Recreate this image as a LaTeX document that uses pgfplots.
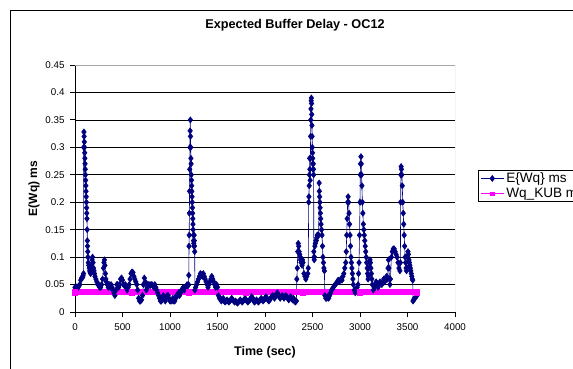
\documentclass[border=0pt]{standalone}
\usepackage{fontspec}
\setmainfont{Liberation Sans}
\usepackage{pgfplots}
\pgfplotsset{compat=1.18}
\usepackage{pgfplotstable}
\definecolor{navyc}{RGB}{0,0,128}
\definecolor{magc}{RGB}{255,0,255}
\pgfplotstableread{
t v
0 0.045
10 0.043
20 0.046
30 0.044
40 0.047
50 0.05
60 0.058
70 0.062
80 0.063
85 0.066
90 0.07
92 0.30
94 0.328
96 0.32
98 0.31
100 0.30
102 0.29
104 0.28
106 0.27
108 0.26
110 0.25
112 0.24
114 0.23
116 0.22
118 0.21
120 0.20
122 0.19
124 0.18
126 0.17
128 0.15
130 0.13
132 0.12
134 0.11
136 0.10
140 0.09
145 0.085
150 0.08
155 0.075
160 0.072
165 0.07
170 0.075
175 0.085
180 0.095
185 0.10
190 0.09
195 0.08
200 0.075
205 0.07
210 0.065
220 0.06
230 0.055
240 0.05
250 0.05
260 0.045
270 0.045
280 0.05
290 0.06
300 0.08
305 0.09
310 0.095
315 0.085
320 0.07
325 0.06
330 0.055
340 0.05
350 0.045
360 0.05
370 0.045
380 0.05
390 0.045
400 0.04
410 0.035
420 0.03
430 0.04
440 0.05
450 0.05
460 0.045
470 0.05
480 0.06
490 0.062
500 0.058
510 0.05
520 0.048
530 0.05
540 0.045
550 0.04
560 0.045
570 0.05
580 0.06
590 0.07
600 0.073
610 0.072
620 0.065
630 0.06
640 0.055
650 0.05
660 0.04
670 0.025
680 0.02
690 0.02
700 0.022
710 0.03
720 0.05
730 0.062
740 0.055
750 0.04
760 0.045
770 0.05
780 0.05
790 0.048
800 0.05
810 0.05
820 0.048
830 0.045
840 0.05
850 0.045
860 0.04
870 0.035
880 0.03
890 0.025
900 0.02
910 0.02
920 0.025
930 0.03
940 0.025
950 0.02
960 0.025
970 0.03
980 0.03
990 0.025
1000 0.02
1010 0.02
1020 0.02
1030 0.025
1040 0.02
1050 0.02
1060 0.025
1070 0.03
1080 0.03
1090 0.035
1100 0.03
1110 0.035
1120 0.04
1130 0.04
1140 0.045
1150 0.04
1160 0.045
1170 0.045
1180 0.05
1190 0.048
1195 0.05
1198 0.067
1200 0.12
1202 0.14
1204 0.18
1206 0.22
1208 0.26
1210 0.30
1212 0.33
1214 0.35
1216 0.32
1218 0.30
1220 0.28
1222 0.27
1224 0.25
1226 0.24
1228 0.23
1230 0.22
1232 0.21
1234 0.20
1236 0.19
1238 0.18
1240 0.17
1242 0.16
1244 0.15
1246 0.14
1248 0.13
1250 0.125
1252 0.12
1254 0.14
1256 0.13
1258 0.12
1260 0.11
1262 0.04
1270 0.045
1280 0.05
1290 0.055
1300 0.06
1310 0.065
1320 0.07
1330 0.068
1340 0.065
1350 0.07
1360 0.065
1370 0.06
1380 0.055
1390 0.05
1400 0.045
1410 0.05
1420 0.055
1430 0.06
1440 0.065
1450 0.06
1460 0.055
1470 0.05
1480 0.045
1490 0.05
1500 0.045
1510 0.03
1520 0.025
1530 0.025
1540 0.02
1550 0.022
1560 0.025
1570 0.02
1580 0.018
1590 0.02
1600 0.022
1610 0.02
1620 0.018
1630 0.02
1640 0.022
1650 0.025
1660 0.022
1670 0.02
1680 0.018
1690 0.02
1700 0.018
1710 0.016
1720 0.018
1730 0.02
1740 0.022
1750 0.02
1760 0.018
1770 0.02
1780 0.022
1790 0.025
1800 0.022
1810 0.02
1820 0.018
1830 0.02
1840 0.022
1850 0.025
1860 0.028
1870 0.025
1880 0.02
1890 0.018
1900 0.02
1910 0.022
1920 0.02
1930 0.018
1940 0.02
1950 0.022
1960 0.025
1970 0.022
1980 0.02
1990 0.022
2000 0.025
2010 0.028
2020 0.025
2030 0.022
2040 0.02
2050 0.022
2060 0.025
2070 0.028
2080 0.03
2090 0.028
2100 0.025
2110 0.03
2120 0.032
2130 0.035
2140 0.03
2150 0.028
2160 0.025
2170 0.028
2180 0.03
2190 0.028
2200 0.025
2210 0.028
2220 0.03
2230 0.028
2240 0.025
2250 0.022
2260 0.025
2270 0.028
2280 0.025
2290 0.022
2300 0.025
2310 0.02
2320 0.018
2330 0.02
2335 0.06
2340 0.08
2345 0.11
2350 0.125
2355 0.12
2360 0.11
2365 0.105
2370 0.1
2375 0.095
2380 0.09
2390 0.085
2395 0.095
2400 0.09
2410 0.07
2420 0.065
2430 0.06
2440 0.065
2450 0.07
2455 0.08
2460 0.2
2462 0.21
2465 0.23
2468 0.25
2470 0.28
2472 0.26
2475 0.24
2478 0.28
2480 0.32
2482 0.35
2484 0.37
2486 0.385
2488 0.39
2490 0.38
2492 0.36
2494 0.34
2496 0.32
2498 0.30
2500 0.29
2502 0.28
2504 0.27
2506 0.26
2508 0.27
2510 0.26
2512 0.25
2514 0.11
2516 0.1
2518 0.095
2520 0.1
2525 0.12
2530 0.125
2535 0.13
2540 0.13
2545 0.135
2550 0.14
2555 0.14
2560 0.14
2565 0.14
2570 0.235
2572 0.22
2575 0.21
2578 0.2
2580 0.19
2583 0.18
2586 0.17
2590 0.16
2595 0.15
2600 0.14
2605 0.12
2610 0.1
2615 0.09
2620 0.08
2625 0.075
2630 0.03
2640 0.025
2650 0.025
2660 0.028
2670 0.025
2680 0.03
2690 0.035
2700 0.04
2710 0.042
2720 0.045
2730 0.048
2740 0.05
2750 0.052
2760 0.055
2770 0.058
2780 0.055
2790 0.058
2800 0.06
2810 0.058
2820 0.065
2830 0.07
2840 0.08
2850 0.09
2855 0.11
2860 0.14
2865 0.17
2870 0.2
2875 0.21
2880 0.2
2885 0.18
2890 0.16
2895 0.14
2900 0.12
2905 0.1
2910 0.09
2915 0.08
2920 0.07
2925 0.06
2930 0.05
2940 0.04
2950 0.035
2960 0.04
2970 0.045
2980 0.05
2985 0.07
2990 0.09
2995 0.14
3000 0.2
3003 0.25
3006 0.27
3010 0.283
3013 0.27
3016 0.25
3020 0.23
3025 0.2
3030 0.18
3035 0.16
3040 0.15
3045 0.14
3050 0.13
3055 0.12
3060 0.11
3065 0.1
3070 0.09
3075 0.08
3080 0.07
3085 0.06
3090 0.065
3095 0.08
3100 0.09
3105 0.095
3110 0.09
3115 0.08
3120 0.07
3125 0.06
3130 0.05
3140 0.04
3150 0.045
3160 0.05
3170 0.055
3180 0.05
3190 0.045
3200 0.05
3210 0.055
3220 0.052
3230 0.05
3240 0.055
3250 0.06
3260 0.055
3270 0.06
3280 0.065
3290 0.06
3295 0.08
3300 0.095
3305 0.08
3310 0.06
3315 0.05
3320 0.06
3330 0.1
3340 0.11
3350 0.115
3360 0.115
3370 0.11
3380 0.105
3390 0.1
3400 0.09
3410 0.08
3420 0.075
3425 0.09
3428 0.2
3430 0.25
3433 0.265
3436 0.26
3440 0.25
3445 0.23
3450 0.2
3455 0.18
3460 0.16
3465 0.14
3470 0.12
3475 0.1
3480 0.09
3485 0.08
3490 0.075
3495 0.08
3500 0.1
3505 0.11
3510 0.105
3515 0.095
3520 0.09
3525 0.085
3530 0.08
3535 0.075
3540 0.07
3545 0.065
3550 0.06
3555 0.058
3558 0.02
3565 0.022
3570 0.024
3580 0.026
3590 0.028
3600 0.03
}\ewq
\pgfplotstableread{
t v
0 0.036
600 0.036
1200 0.036
1800 0.036
2400 0.036
3000 0.036
3600 0.036
}\kub
\begin{document}
\begin{tikzpicture}[x=1pt,y=1pt]
\useasboundingbox (0,0) rectangle (573,368);
\draw[black, line width=1pt] (10,-5) -- (10,358) -- (600,358);
\begin{axis}[
  at={(75pt,56pt)}, anchor=south west,
  scale only axis, width=380pt, height=247pt,
  xmin=0, xmax=4000, ymin=0, ymax=0.45,
  axis x line*=bottom, axis y line*=left,
  axis line style={black, line width=0.8pt},
  xtick={0,500,1000,1500,2000,2500,3000,3500,4000},
  ytick={0,0.05,0.1,0.15,0.2,0.25,0.3,0.35,0.4,0.45},
  scaled y ticks=false, scaled x ticks=false,
  yticklabel style={/pgf/number format/fixed, /pgf/number format/precision=2, xshift=-2pt},
  xticklabel style={/pgf/number format/set thousands separator={}, yshift=-3pt},
  /pgf/number format/assume math mode=true,
  tick align=outside, major tick length=5pt,
  tick style={black, line width=0.8pt},
  ticklabel style={font=\fontsize{9.8}{11}\selectfont},
  ymajorgrids, grid style={black, line width=0.6pt},
  title={Expected Buffer Delay - OC12},
  title style={at={(axis description cs:0.579,1.138)}, anchor=center, font=\fontsize{12.7}{14}\selectfont\bfseries},
  xlabel={Time (sec)},
  xlabel style={at={(axis description cs:0.5,-0.165)}, anchor=center, font=\fontsize{12.5}{14}\selectfont\bfseries},
  ylabel={E(Wq) ms},
  ylabel style={at={(axis description cs:-0.108,0.5)}, anchor=center, font=\fontsize{12}{14}\selectfont\bfseries},
  legend style={at={(axis description cs:1.0605,0.575)}, anchor=north west, draw=black, line width=0.6pt,
    font=\fontsize{13.6}{15}\selectfont, inner xsep=2pt, inner ysep=0.5pt, row sep=0pt},
  legend cell align=left,
  legend image code/.code={\draw[mark repeat=2,mark phase=2,#1] plot coordinates {(0pt,0pt) (11.5pt,0pt) (23pt,0pt)};},
]
\draw[gray!70, line width=0.8pt] (rel axis cs:0,1) -- (rel axis cs:1,1) -- (rel axis cs:1,0);
\addplot[navyc, line width=0.6pt, mark=diamond*, mark size=3pt, mark options={fill=navyc, draw=navyc}] table[x=t,y=v] {\ewq};
\addlegendentry{E\{Wq\} ms}
\addplot[magc, line width=5.5pt, mark=square*, mark size=2.6pt, mark options={fill=magc, draw=magc, line width=0.4pt},
  legend image post style={line width=1pt, mark size=1.8pt}] table[x=t,y=v] {\kub};
\addlegendentry{Wq\_KUB ms}
\end{axis}
\end{tikzpicture}
\end{document}
